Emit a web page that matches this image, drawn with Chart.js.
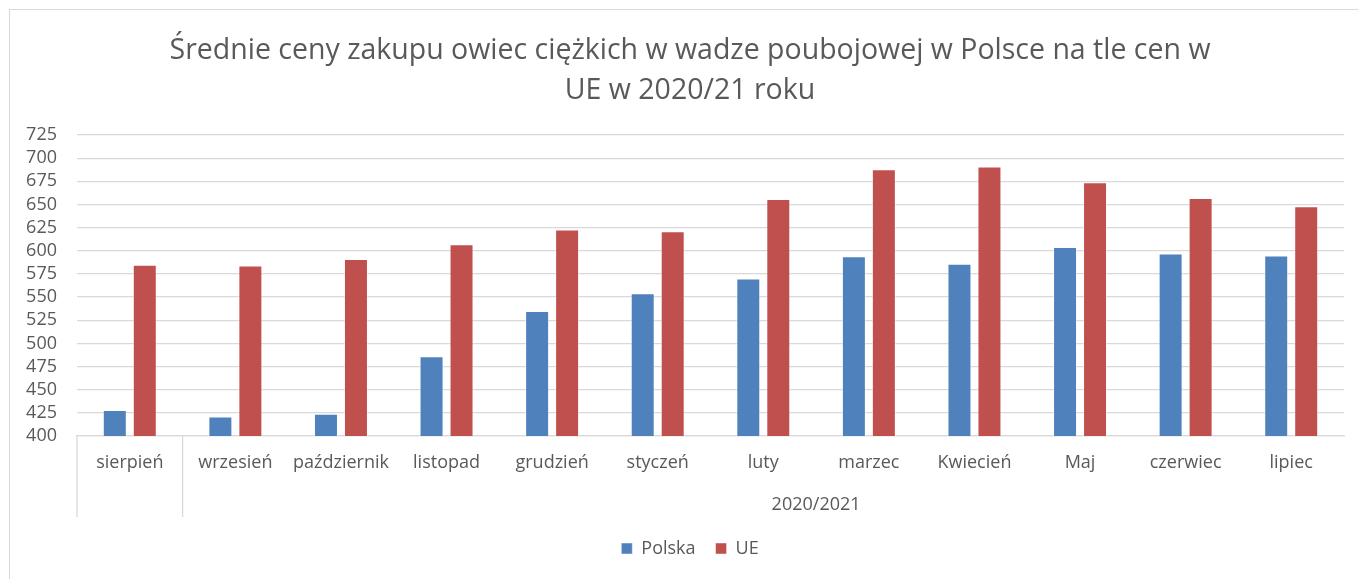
<!DOCTYPE html>
<html lang="pl">
<head>
<meta charset="utf-8">
<title>Średnie ceny zakupu owiec ciężkich</title>
<script src="https://cdn.jsdelivr.net/npm/chart.js@4.4.1/dist/chart.umd.min.js"></script>
<style>
    html, body { margin: 0; padding: 0; background: #fff; overflow: hidden; }
    .chart-frame {
        position: absolute;
        left: 9px;
        top: 9px;
        width: 1400px;
        height: 620px;
        border: 1px solid #d9d9d9;
    }
    .chart-box { position: absolute; left: 0; top: 0; width: 1360px; height: 569px; }
</style>
</head>
<body>
<div class="chart-frame">
    <div class="chart-box"><canvas id="sheepChart"></canvas></div>
</div>
<script>
const months = ['sierpień', 'wrzesień', 'październik', 'listopad', 'grudzień', 'styczeń',
    'luty', 'marzec', 'Kwiecień', 'Maj', 'czerwiec', 'lipiec'];
const groupLabel = '2020/2021';
const polska = [428, 421, 424, 486, 535, 554, 570, 594, 586, 604, 597, 595];
const ue = [585, 584, 591, 607, 623, 621, 656, 688, 691, 674, 657, 648];
const yMin = 400;
const yMax = 725;
const yStep = 25;

const TEXT = '#595959';
const LINE = '#d9d9d9';

Chart.defaults.font.family = "'Open Sans', 'Noto Sans', sans-serif";
Chart.defaults.color = TEXT;

// second level of the category axis: dividers + the year label
const groupAxis = {
    id: 'groupAxis',
    afterDraw(chart) {
        const { ctx, chartArea, scales } = chart;
        const x = scales.x;
        const bottom = chartArea.bottom + 81;
        const half = (x.getPixelForValue(1) - x.getPixelForValue(0)) / 2;
        ctx.save();
        ctx.strokeStyle = LINE;
        ctx.lineWidth = 1.3;
        [chartArea.left, x.getPixelForValue(0) + half].forEach(px => {
            ctx.beginPath();
            ctx.moveTo(px, chartArea.bottom);
            ctx.lineTo(px, bottom);
            ctx.stroke();
        });
        ctx.fillStyle = TEXT;
        ctx.font = "18px 'Open Sans', sans-serif";
        ctx.textAlign = 'center';
        ctx.textBaseline = 'middle';
        ctx.fillText(groupLabel, x.getPixelForValue(6) + half, chartArea.bottom + 69);
        ctx.restore();
    }
};

const ctx = document.getElementById('sheepChart').getContext('2d');
new Chart(ctx, {
    type: 'bar',
    data: {
        labels: months,
        datasets: [
            {
                label: 'Polska',
                data: polska,
                backgroundColor: '#4f81bd',
                borderColor: 'rgba(255, 255, 255, 0.45)',
                borderWidth: 1,
                categoryPercentage: 0.568,
                barPercentage: 0.8
            },
            {
                label: 'UE',
                data: ue,
                backgroundColor: '#c0504d',
                borderColor: 'rgba(255, 255, 255, 0.45)',
                borderWidth: 1,
                categoryPercentage: 0.568,
                barPercentage: 0.8
            }
        ]
    },
    options: {
        responsive: true,
        maintainAspectRatio: false,
        animation: false,
        layout: { padding: { top: 0, right: 0, bottom: 11.5, left: 0 } },
        plugins: {
            title: {
                display: true,
                text: ['Średnie ceny zakupu owiec ciężkich w wadze poubojowej w Polsce na tle cen w',
                    'UE w 2020/21 roku'],
                color: TEXT,
                font: { size: 28.5, weight: 'normal', lineHeight: 40 / 28.5 },
                padding: { top: 21, bottom: 24 }
            },
            legend: {
                position: 'bottom',
                labels: {
                    boxWidth: 11,
                    boxHeight: 11,
                    padding: 20,
                    color: TEXT,
                    font: { size: 18 }
                }
            },
            tooltip: { enabled: false }
        },
        scales: {
            x: {
                grid: { display: false, drawTicks: false },
                border: { color: LINE, width: 1.3 },
                ticks: { color: TEXT, font: { size: 18 }, padding: 16, maxRotation: 0, autoSkip: false },
                afterFit: scale => { scale.height = 83.5; }
            },
            y: {
                min: yMin,
                max: yMax,
                grid: { color: LINE, lineWidth: 1.3, drawTicks: false },
                border: { display: false },
                ticks: { stepSize: yStep, color: TEXT, font: { size: 18 }, padding: 20, autoSkip: false },
                afterFit: scale => { scale.width = 67; }
            },
            // empty right strip so the title/legend stay centred on the whole frame
            yRight: {
                position: 'right',
                min: yMin,
                max: yMax,
                grid: { display: false, drawTicks: false },
                border: { display: false },
                ticks: { display: false },
                afterFit: scale => { scale.width = 26; }
            }
        }
    },
    plugins: [groupAxis]
});
</script>
</body>
</html>
